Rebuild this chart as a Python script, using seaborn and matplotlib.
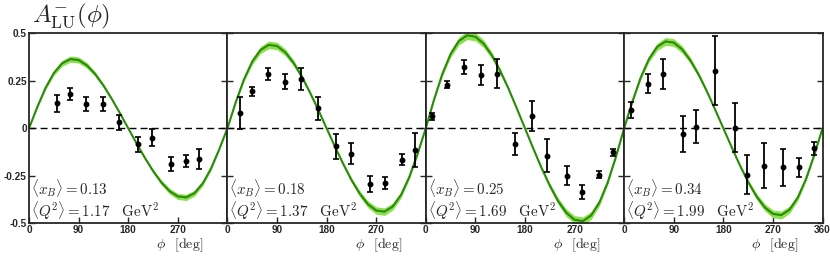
"""Beam-spin asymmetry A_LU^- vs phi in four x_B bins."""
import matplotlib
matplotlib.use("Agg")
import matplotlib.pyplot as plt
import numpy as np
import seaborn as sns

xb_labels = ["0.13", "0.18", "0.25", "0.34"]
q2_labels = ["1.17", "1.37", "1.69", "1.99"]

# data points (phi in deg, asymmetry, stat. error)
phi_1 = [51, 75, 104, 135, 164, 197, 224, 257, 284, 309]
asym_1 = [0.131, 0.181, 0.127, 0.127, 0.031, -0.084, -0.049, -0.188, -0.171, -0.162]
err_1 = [0.044, 0.033, 0.035, 0.038, 0.040, 0.040, 0.044, 0.036, 0.031, 0.051]

phi_2 = [22, 45, 73, 104, 133, 164, 197, 225, 258, 286, 316, 340]
asym_2 = [0.080, 0.195, 0.286, 0.246, 0.260, 0.105, -0.096, -0.134, -0.294, -0.289, -0.166, -0.115]
err_2 = [0.083, 0.024, 0.033, 0.037, 0.059, 0.059, 0.064, 0.055, 0.044, 0.031, 0.029, 0.089]

phi_3 = [12, 39, 69, 100, 130, 162, 193, 220, 257, 283, 315, 340]
asym_3 = [0.063, 0.230, 0.322, 0.279, 0.287, -0.084, 0.064, -0.145, -0.249, -0.336, -0.244, -0.127]
err_3 = [0.019, 0.018, 0.035, 0.052, 0.077, 0.059, 0.078, 0.087, 0.052, 0.035, 0.018, 0.019]

phi_4 = [12, 43, 70, 106, 131, 165, 202, 223, 253, 288, 318, 344]
asym_4 = [0.096, 0.235, 0.287, -0.031, 0.009, 0.303, 0.003, -0.244, -0.197, -0.206, -0.206, -0.106]
err_4 = [0.044, 0.050, 0.078, 0.096, 0.085, 0.181, 0.129, 0.102, 0.117, 0.096, 0.050, 0.033]

# model curves sampled every 15 deg
curve_phi = list(range(0, 361, 15))
curve_1 = [0, 0.112, 0.213, 0.291, 0.342, 0.364, 0.359, 0.331, 0.285, 0.225, 0.155, 0.079, 0,
           -0.079, -0.155, -0.225, -0.285, -0.331, -0.359, -0.364, -0.342, -0.291, -0.213, -0.112, 0]
curve_2 = [0, 0.136, 0.257, 0.351, 0.412, 0.439, 0.433, 0.400, 0.344, 0.272, 0.187, 0.096, 0,
           -0.096, -0.187, -0.272, -0.344, -0.400, -0.433, -0.439, -0.412, -0.351, -0.257, -0.136, 0]
curve_3 = [0, 0.151, 0.286, 0.391, 0.459, 0.489, 0.482, 0.445, 0.383, 0.302, 0.209, 0.106, 0,
           -0.106, -0.209, -0.302, -0.383, -0.445, -0.482, -0.489, -0.459, -0.391, -0.286, -0.151, 0]
curve_4 = [0, 0.141, 0.267, 0.365, 0.429, 0.457, 0.451, 0.416, 0.358, 0.283, 0.195, 0.099, 0,
           -0.099, -0.195, -0.283, -0.358, -0.416, -0.451, -0.457, -0.429, -0.365, -0.267, -0.141, 0]
band_frac = 0.045  # relative width of the model uncertainty band

panels = [
    (phi_1, asym_1, err_1, curve_1),
    (phi_2, asym_2, err_2, curve_2),
    (phi_3, asym_3, err_3, curve_3),
    (phi_4, asym_4, err_4, curve_4),
]

sns.set_style("ticks")
plt.rcParams["mathtext.fontset"] = "cm"
plt.rcParams["font.family"] = ["Liberation Sans", "DejaVu Sans"]

fig, axes = plt.subplots(1, 4, figsize=(8.3, 2.56), dpi=100, sharey=True)
fig.subplots_adjust(left=0.035, right=0.991, top=0.870, bottom=0.128, wspace=0)

for i, (ax, (phi, asym, err, curve)) in enumerate(zip(axes, panels)):
    curve = np.asarray(curve)
    band = band_frac * np.abs(curve)
    ax.fill_between(curve_phi, curve - band, curve + band, color="#8be04e", lw=0, zorder=1)
    sns.lineplot(x=curve_phi, y=curve, ax=ax, color="#2a8a0a", lw=1.5, zorder=2)
    ax.axhline(0, color="black", lw=1.0, ls=(0, (5, 3)), zorder=1.5)
    ax.errorbar(phi, asym, yerr=err, fmt="o", color="black", ms=3.2,
                elinewidth=1.3, capsize=2.4, capthick=1.2, zorder=3)

    ax.set_xlim(0, 360)
    ax.set_ylim(-0.5, 0.5)
    ax.set_xticks([0, 90, 180, 270, 360])
    ax.set_xticklabels(["0", "90", "180", "270", "360" if i == 3 else ""])
    ax.set_yticks([-0.5, -0.25, 0, 0.25, 0.5])
    ax.set_yticklabels(["-0.5", "-0.25", "0", "0.25", "0.5"])
    ax.tick_params(direction="in", length=4, width=1, left=True, right=True,
                   top=False, bottom=True, labelsize=7.2, pad=1.5)
    for lab in ax.get_xticklabels() + ax.get_yticklabels():
        lab.set_fontweight("bold")
    for sp in ax.spines.values():
        sp.set_linewidth(1.3)
        sp.set_visible(True)

    ax.set_xlabel(r"$\phi\ \ \,[\mathrm{deg}]$", fontsize=10, labelpad=1)
    ax.xaxis.set_label_coords(0.76, -0.072)
    ax.set_ylabel("")

    ax.text(0.01, 0.185, r"$\langle x_B\rangle = %s$" % xb_labels[i],
            transform=ax.transAxes, fontsize=10.8, ha="left", va="center")
    ax.text(0.01, 0.068, r"$\langle Q^2\rangle = %s\ \ \ \mathrm{GeV}^2$" % q2_labels[i],
            transform=ax.transAxes, fontsize=10.8, ha="left", va="center")

fig.text(0.038, 0.935, r"$A^{-}_{\mathrm{LU}}(\phi)$", fontsize=18, ha="left", va="center")

fig.savefig("out.png", dpi=100)
plt.close(fig)
